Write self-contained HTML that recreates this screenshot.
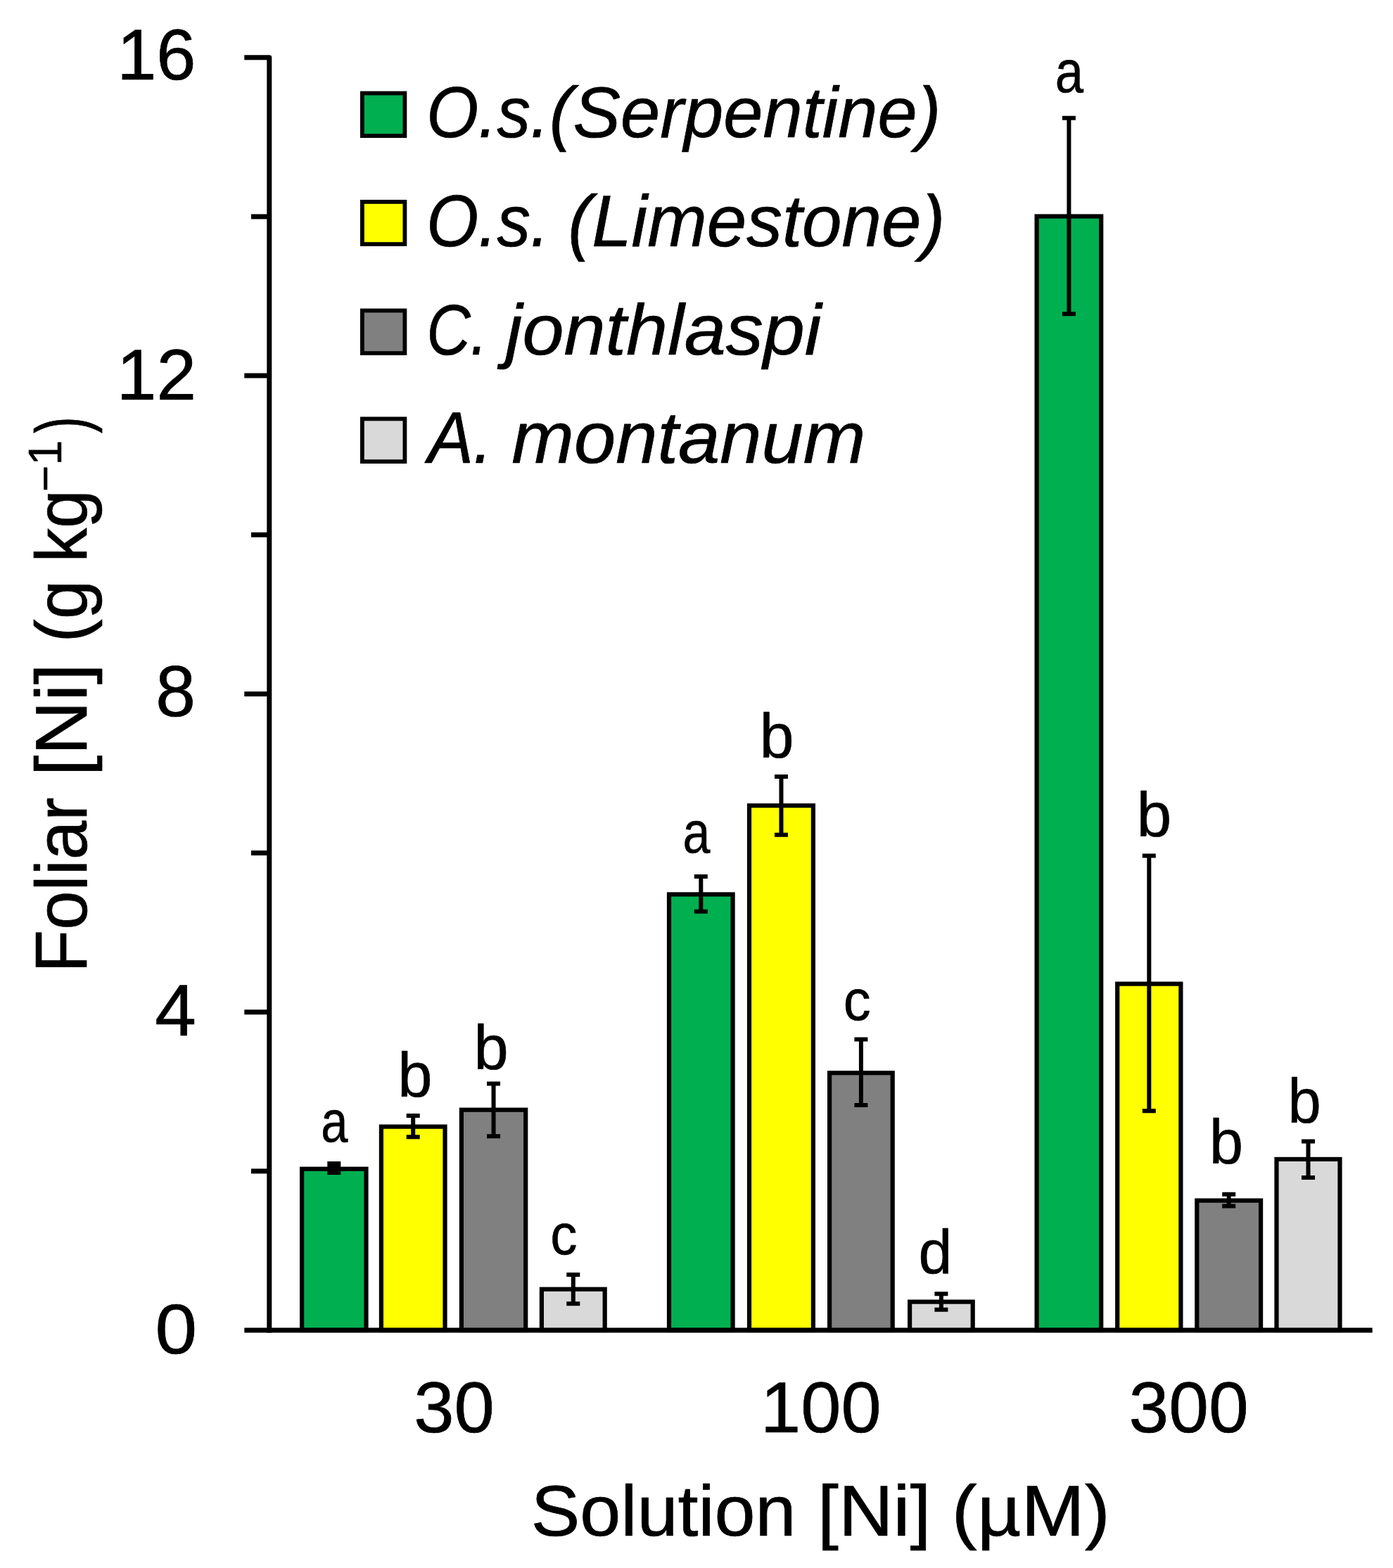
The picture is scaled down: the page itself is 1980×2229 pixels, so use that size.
<!DOCTYPE html>
<html lang="en">
<head>
<meta charset="utf-8">
<title>Foliar [Ni] versus solution [Ni]</title>
<style>
html,body{margin:0;padding:0;background:#fff;}
body{width:1980px;height:2229px;overflow:hidden;}
svg{display:block;}
text{font-family:'Liberation Sans', sans-serif;font-size:100px;fill:#000;stroke:#000;stroke-width:0.7px;stroke-linejoin:round;}
.it{font-style:italic;}
.bar{stroke:#000;stroke-width:6.2;}
.ln{stroke:#000;fill:none;}
</style>
</head>
<body>
<svg width="1980" height="2229" viewBox="0 0 1980 2229" style="filter:blur(0.6px)">
<rect x="-20" y="-20" width="2020" height="2269" fill="#fff"/>
<g>
<rect class="bar" x="429.10" y="1661.70" width="91.40" height="229.30" fill="#00B050"/>
<rect class="bar" x="541.90" y="1601.60" width="90.60" height="289.40" fill="#FFFF00"/>
<rect class="bar" x="655.90" y="1577.70" width="91.30" height="313.30" fill="#808080"/>
<rect class="bar" x="769.90" y="1832.70" width="89.80" height="58.30" fill="#D9D9D9"/>
<rect class="bar" x="951.00" y="1271.40" width="90.60" height="619.60" fill="#00B050"/>
<rect class="bar" x="1065.00" y="1145.20" width="90.90" height="745.80" fill="#FFFF00"/>
<rect class="bar" x="1179.10" y="1525.20" width="89.60" height="365.80" fill="#808080"/>
<rect class="bar" x="1293.10" y="1850.60" width="89.60" height="40.40" fill="#D9D9D9"/>
<rect class="bar" x="1473.60" y="307.50" width="91.60" height="1583.50" fill="#00B050"/>
<rect class="bar" x="1588.20" y="1398.60" width="90.20" height="492.40" fill="#FFFF00"/>
<rect class="bar" x="1701.30" y="1706.60" width="90.80" height="184.40" fill="#808080"/>
<rect class="bar" x="1814.50" y="1647.90" width="90.00" height="243.10" fill="#D9D9D9"/>
</g>
<g class="ln" stroke-width="7.0" stroke-linejoin="round">
<path d="M347.3 81.8H382.8V1894.50"/>
<path d="M347.3 1891.0H1950.7"/>
<path d="M357.0 1664.85H382.8"/>
<path d="M347.3 1438.70H382.8"/>
<path d="M357.0 1212.55H382.8"/>
<path d="M347.3 986.40H382.8"/>
<path d="M357.0 760.25H382.8"/>
<path d="M347.3 534.10H382.8"/>
<path d="M357.0 307.95H382.8"/>
</g>
<g class="ln" stroke-width="6.0">
<path stroke-width="19.0" d="M474.80 1651.00V1670.00"/>
<path d="M587.20 1586.00V1616.20M577.70 1586.00H596.70M577.70 1616.20H596.70"/>
<path d="M701.55 1540.40V1615.20M692.05 1540.40H711.05M692.05 1615.20H711.05"/>
<path d="M814.80 1812.00V1853.30M805.30 1812.00H824.30M805.30 1853.30H824.30"/>
<path d="M996.30 1246.10V1295.70M986.80 1246.10H1005.80M986.80 1295.70H1005.80"/>
<path d="M1110.45 1104.10V1186.70M1100.95 1104.10H1119.95M1100.95 1186.70H1119.95"/>
<path d="M1223.90 1477.50V1571.00M1214.40 1477.50H1233.40M1214.40 1571.00H1233.40"/>
<path d="M1337.90 1839.30V1861.70M1328.40 1839.30H1347.40M1328.40 1861.70H1347.40"/>
<path d="M1519.40 167.80V446.30M1509.90 167.80H1528.90M1509.90 446.30H1528.90"/>
<path d="M1633.30 1216.60V1579.20M1623.80 1216.60H1642.80M1623.80 1579.20H1642.80"/>
<path d="M1746.70 1697.70V1714.60M1737.20 1697.70H1756.20M1737.20 1714.60H1756.20"/>
<path d="M1859.50 1622.40V1673.90M1850.00 1622.40H1869.00M1850.00 1673.90H1869.00"/>
</g>
<g>
<rect x="514.90" y="132.50" width="60.50" height="60.60" fill="#00B050" stroke="#000" stroke-width="5.8"/>
<rect x="514.90" y="286.90" width="60.50" height="60.20" fill="#FFFF00" stroke="#000" stroke-width="5.8"/>
<rect x="514.90" y="441.50" width="60.50" height="60.60" fill="#808080" stroke="#000" stroke-width="5.8"/>
<rect x="514.90" y="595.40" width="60.50" height="60.70" fill="#D9D9D9" stroke="#000" stroke-width="5.8"/>
</g>
<g>
<text transform="matrix(1.0106 0 0 1.0242 166.13 113.23)">16</text>
<text transform="matrix(1.0182 0 0 1.0243 165.77 567.54)">12</text>
<text transform="matrix(1.0187 0 0 1.0213 221.23 1018.14)">8</text>
<text transform="matrix(1.0550 0 0 1.0329 220.35 1472.20)">4</text>
<text transform="matrix(1.0719 0 0 1.0105 220.53 1923.75)">0</text>
<text transform="matrix(1.0299 0 0 1.0157 588.17 2035.75)">30</text>
<text transform="matrix(1.0283 0 0 1.0158 1081.10 2035.75)">100</text>
<text transform="matrix(1.0203 0 0 1.0157 1604.61 2035.75)">300</text>
<text transform="matrix(1.0432 0 0 1.0187 754.63 2183.44)">Solution</text>
<text transform="matrix(1.0763 0 0 1.0187 1162.01 2183.44)">[Ni]</text>
<text transform="matrix(1.0844 0 0 1.0187 1352.85 2183.44)">(µM)</text>
<text class="it" transform="matrix(0.9502 0 0 1.0269 606.15 195.23)">O.s.</text>
<text class="it" transform="matrix(1.0116 0 0 1.0269 780.85 195.23)">(Serpentine)</text>
<text class="it" transform="matrix(0.9502 0 0 1.0297 606.15 349.72)">O.s.</text>
<text class="it" transform="matrix(1.0151 0 0 1.0297 807.34 349.72)">(Limestone)</text>
<text class="it" transform="matrix(0.8623 0 0 1.0211 606.59 503.72)">C.</text>
<text class="it" transform="matrix(1.0620 0 0 1.0211 718.84 503.72)">jonthlaspi</text>
<text class="it" transform="matrix(0.9704 0 0 1.0403 608.15 658.24)">A.</text>
<text class="it" transform="matrix(1.0650 0 0 1.0403 727.23 658.24)">montanum</text>
<text transform="matrix(0.6875 0 0 0.8404 456.30 1623.38)">a</text>
<text transform="matrix(0.8870 0 0 0.8983 565.18 1559.10)">b</text>
<text transform="matrix(0.8848 0 0 0.8902 673.39 1519.51)">b</text>
<text transform="matrix(0.7643 0 0 0.8113 782.31 1783.39)">c</text>
<text transform="matrix(0.6991 0 0 0.8350 970.55 1212.08)">a</text>
<text transform="matrix(0.8761 0 0 0.8889 1079.74 1076.71)">b</text>
<text transform="matrix(0.7779 0 0 0.8113 1198.76 1449.99)">c</text>
<text transform="matrix(0.8605 0 0 0.8821 1305.48 1811.32)">d</text>
<text transform="matrix(0.7240 0 0 0.8458 1499.66 131.37)">a</text>
<text transform="matrix(0.8891 0 0 0.8862 1615.67 1188.91)">b</text>
<text transform="matrix(0.8630 0 0 0.8902 1718.92 1653.71)">b</text>
<text transform="matrix(0.8500 0 0 0.8902 1830.60 1596.41)">b</text>
<text transform="matrix(0 -0.9969 1.0359 0 122.84 1382.73)">Foliar</text>
<text transform="matrix(0 -1.0661 1.0359 0 122.84 1103.22)">[Ni]</text>
<text transform="matrix(0 -0.9943 1.0359 0 122.84 913.13)">(g</text>
<text transform="matrix(0 -0.9778 1.0359 0 122.84 799.57)">kg</text>
<text transform="matrix(0 -0.6430 0.6662 0 86.63 699.03)">−1</text>
<text transform="matrix(0 -0.7139 1.0359 0 122.84 616.00)">)</text>
</g>
</svg>
</body>
</html>
